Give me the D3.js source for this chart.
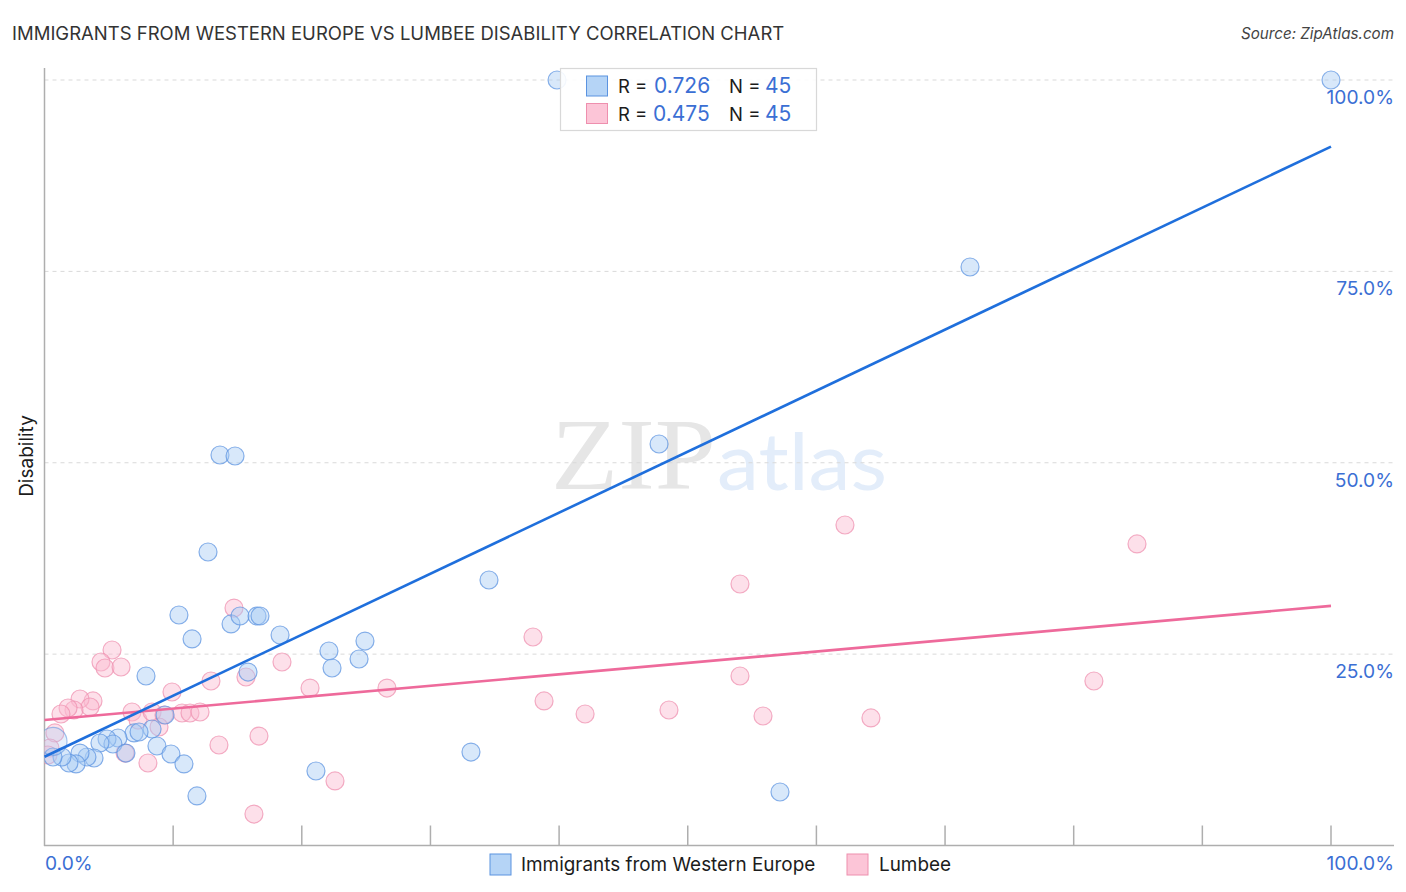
<!DOCTYPE html>
<html><head><meta charset="utf-8">
<script src="https://cdnjs.cloudflare.com/ajax/libs/d3/7.8.5/d3.min.js"></script>
<style>html,body{margin:0;background:#fff}svg{display:block}text{font-family:Inter,"Noto Sans",sans-serif}</style>
</head><body><svg id="c" width="1406" height="892"></svg>
<script>
const titleText = "IMMIGRANTS FROM WESTERN EUROPE VS LUMBEE DISABILITY CORRELATION CHART";
const sourceText = "Source: ZipAtlas.com";
const yAxisLabel = "Disability";
const seriesNames = ["Immigrants from Western Europe", "Lumbee"];
const rValues = ["0.726", "0.475"];
const nValues = ["45", "45"];
const yTicks = [25, 50, 75, 100];
const xTicks = [10,20,30,40,50,60,70,80,90,100];
const blueX = [39.84,100,71.94,47.77,13.64,14.81,12.71,34.55,10.45,11.47,14.5,15.2,16.52,16.75,18.31,22.11,24.91,24.45,22.35,15.82,7.89,9.37,8.36,6.96,7.35,5.71,4.86,5.32,4.31,6.33,8.74,9.83,10.84,33.15,21.1,11.85,57.17,3.85,3.3,2.76,2.45,1.9,1.36,0.66,0.66];
const blueY = [100,100,75.57,52.45,51.01,50.88,38.34,34.68,30.11,26.98,28.94,29.98,29.98,29.98,27.5,25.41,26.71,24.36,23.19,22.66,22.14,17.05,15.22,14.7,14.83,14.04,13.91,13.26,13.39,12.08,13,11.95,10.65,12.21,9.73,6.47,6.99,11.43,11.56,12.08,10.65,10.78,11.56,11.56,13.6];
const blueR = [9,9,9,9,9,9,9,9,9,9,9,9,9,9,9,9,9,9,9,9,9,9,9,9,9,9,9,9,9,9,9,9,9,9,9,9,9,9,9,9,9,9,9,9,14];
const pinkX = [5.25,4.39,4.7,5.95,14.73,18.46,20.64,26.62,15.66,12.94,9.91,3.77,2.76,3.54,2.29,1.83,1.28,6.8,7.27,8.36,9.29,10.69,11.31,12.09,8.9,16.67,13.56,6.26,8.04,22.58,16.28,0.81,0.43,0.27,37.97,62.22,84.92,54.06,54.06,38.83,42.02,48.54,55.85,64.24,81.57];
const pinkY = [25.54,23.97,23.19,23.32,31.02,23.97,20.57,20.57,22.01,21.49,20.05,18.88,19.14,18.09,17.7,17.96,17.18,17.44,16.39,17.44,17.05,17.31,17.31,17.44,15.48,14.3,13.13,12.08,10.78,8.43,4.11,14.7,12.74,11.82,27.24,41.87,39.39,34.16,22.14,18.88,17.18,17.7,16.92,16.66,21.49];
const blueLine = [[0,11.6],[100,91.3]];
const pinkLine = [[0,16.4],[100,31.3]];
const colors = {blue:"#1f6fdc", blueFill:"#a8ccf5", blueStroke:"#5b93e0", pink:"#ee6a9b", pinkFill:"#fbbbd0", pinkStroke:"#ee8fae", label:"#3b6fd4", axis:"#aeaeae", grid:"#d9d9d9", text:"#1c1c1c"};

const svg = d3.select("#c");
const x = d3.scaleLinear().domain([0,100]).range([44.5,1331]);
const y = d3.scaleLinear().domain([0,100]).range([845.5,80]);

svg.append("defs").append("clipPath").attr("id","plot").append("rect")
  .attr("x",x(0)).attr("y",60).attr("width",1400-x(0)).attr("height",y(0)-60);

// watermark
svg.append("text").attr("x",551).attr("y",489).attr("font-size",101).style("font-family","'Liberation Serif',serif").attr("fill","#e6e6e6").attr("textLength",165).attr("lengthAdjust","spacingAndGlyphs").text("ZIP");
svg.append("text").attr("x",717).attr("y",490).attr("font-size",79).style("font-family","Lato,sans-serif").attr("fill","#e3edfa").attr("textLength",170).attr("lengthAdjust","spacingAndGlyphs").text("atlas");

// grid
svg.append("g").selectAll("line").data(yTicks).join("line")
  .attr("x1",44.5).attr("x2",1394).attr("y1",d=>y(d)).attr("y2",d=>y(d))
  .attr("stroke",colors.grid).attr("stroke-dasharray","4 4").attr("stroke-width",1);

// axes
const axisG = svg.append("g").attr("transform",`translate(0,${y(0)})`);
axisG.call(d3.axisBottom(x).tickValues(xTicks).tickSize(-20).tickFormat("").offset(0));
axisG.select(".domain").remove();
axisG.selectAll("line").attr("stroke",colors.axis).attr("stroke-width",1.5);
svg.append("line").attr("x1",44).attr("x2",1394).attr("y1",845.5).attr("y2",845.5).attr("stroke",colors.axis).attr("stroke-width",1.5);
svg.append("line").attr("x1",44.5).attr("x2",44.5).attr("y1",68).attr("y2",846).attr("stroke",colors.axis).attr("stroke-width",1.5);

// points
function pts(xs,ys,rs,fill,stroke){
  svg.append("g").attr("clip-path","url(#plot)").selectAll("circle").data(xs.map((v,i)=>({x:v,y:ys[i],r:rs?rs[i]:9}))).join("circle")
   .attr("cx",d=>x(d.x)).attr("cy",d=>y(d.y)).attr("r",d=>d.r)
   .attr("fill",fill).attr("fill-opacity",d=>d.r>9?0.3:0.45).attr("stroke",stroke).attr("stroke-opacity",d=>d.r>9?0.55:0.72).attr("stroke-width",1.2);
}
pts(pinkX,pinkY,null,colors.pinkFill,colors.pinkStroke);
pts(blueX,blueY,blueR,colors.blueFill,colors.blueStroke);

// trend
const ln = d3.line().x(d=>x(d[0])).y(d=>y(d[1]));
svg.append("path").attr("d",ln(pinkLine)).attr("stroke",colors.pink).attr("stroke-width",2.6).attr("fill","none");
svg.append("path").attr("d",ln(blueLine)).attr("stroke",colors.blue).attr("stroke-width",2.6).attr("fill","none");

// titles
svg.append("text").attr("x",12).attr("y",39.5).attr("font-size",18.5).attr("fill","#333").text(titleText);
svg.append("text").attr("x",1394).attr("y",39).attr("text-anchor","end").attr("font-size",15.2).attr("font-style","italic").attr("fill","#444").text(sourceText);
svg.append("text").attr("transform","translate(33,456) rotate(-90)").attr("text-anchor","middle").attr("font-size",19).attr("fill",colors.text).text(yAxisLabel);

// tick labels
svg.append("g").selectAll("text").data(yTicks).join("text")
  .attr("x",1394).attr("y",d=>y(d)+24).attr("text-anchor","end").attr("font-size",19.2).attr("fill",colors.label).text(d=>d.toFixed(1)+"%");
svg.append("text").attr("x",45).attr("y",870).attr("font-size",19.2).attr("fill",colors.label).text("0.0%");
svg.append("text").attr("x",1394).attr("y",870).attr("text-anchor","end").attr("font-size",19.2).attr("fill",colors.label).text("100.0%");

// stat legend
svg.append("rect").attr("x",560.5).attr("y",68.5).attr("width",256).attr("height",62).attr("fill","#fff").attr("fill-opacity",0.9).attr("stroke","#d8d8d8").attr("stroke-width",1.2);
[0,1].forEach(i=>{
  const yy = 76+i*27.5;
  svg.append("rect").attr("x",586.5).attr("y",yy).attr("width",21).attr("height",20)
    .attr("fill",i?colors.pinkFill:colors.blueFill).attr("fill-opacity",0.85).attr("stroke",i?colors.pinkStroke:colors.blueStroke);
  const by = yy+17;
  svg.append("text").attr("x",618).attr("y",by).attr("font-size",18.5).attr("fill",colors.text).text("R =");
  svg.append("text").attr("x",i?653:654).attr("y",by).attr("font-size",21).attr("fill",colors.label).text(rValues[i]);
  svg.append("text").attr("x",729).attr("y",by).attr("font-size",18.5).attr("fill",colors.text).text("N =");
  svg.append("text").attr("x",765).attr("y",by).attr("font-size",21).attr("fill",colors.label).text(nValues[i]);
});

// bottom legend
[[490,0,31],[847,1,32]].forEach(([lx,i,off])=>{
  svg.append("rect").attr("x",lx).attr("y",854).attr("width",21).attr("height",21)
    .attr("fill",i?colors.pinkFill:colors.blueFill).attr("fill-opacity",0.85).attr("stroke",i?colors.pinkStroke:colors.blueStroke);
  svg.append("text").attr("x",lx+off).attr("y",871).attr("font-size",18.9).attr("fill",colors.text).text(seriesNames[i]);
});
</script></body></html>
